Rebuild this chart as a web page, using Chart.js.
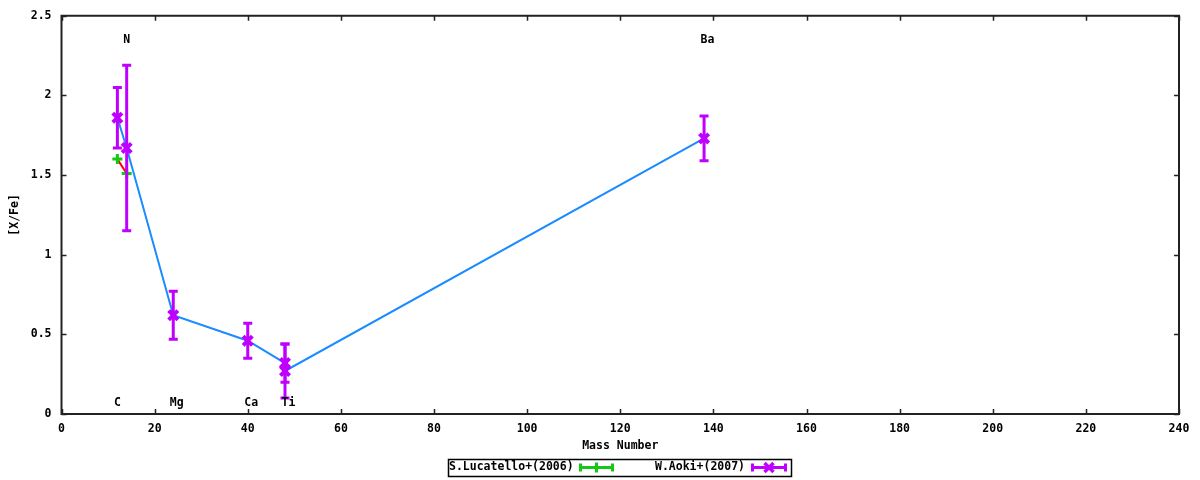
<!DOCTYPE html>
<html>
<head>
<meta charset="utf-8">
<script src="https://cdn.jsdelivr.net/npm/chart.js@4/dist/chart.umd.min.js"></script>
<style>
  html, body { margin: 0; padding: 0; background: #fff; }
  #wrap { width: 1200px; height: 480px; }
</style>
</head>
<body>
<div id="wrap"><canvas id="chart" width="1200" height="480"></canvas></div>
<script>
// Abundance ratios vs mass number

const aokiMass = [12, 14, 24, 40, 48, 48, 138];
const aokiValues = [1.86, 1.67, 0.62, 0.46, 0.32, 0.27, 1.73];
const aokiErrors = [0.19, 0.52, 0.15, 0.11, 0.12, 0.17, 0.14];

const lucatelloMass = [12, 14];
const lucatelloValues = [1.6, 1.51];

const elementNames = ['N', 'Ba', 'C', 'Mg', 'Ca', 'Ti'];
const elementMass = [14, 138, 12, 24, 40, 48];
const elementY = [2.35, 2.35, 0.07, 0.07, 0.07, 0.07];

const xTicks = [0, 20, 40, 60, 80, 100, 120, 140, 160, 180, 200, 220, 240];
const yTicks = [0, 0.5, 1, 1.5, 2, 2.5];

const PURPLE = '#bf00ff';
const GREEN = '#14c814';
const BLUE = '#1a8cff';
const RED = '#ff0000';
const FONT = '"DejaVu Sans Mono", monospace';

Chart.defaults.font.family = FONT;
Chart.defaults.font.size = 11.5;
Chart.defaults.font.weight = 'bold';
Chart.defaults.color = '#000';

function toPoints(xs, ys) {
    return xs.map((x, i) => ({ x: x, y: ys[i] }));
}

// frame, inward ticks on all four sides
const framePlugin = {
    id: 'frame',
    afterDraw(chart) {
        const { ctx, chartArea: a, scales } = chart;
        ctx.save();
        ctx.strokeStyle = '#222';
        ctx.lineWidth = 1.5;
        ctx.beginPath();
        scales.x.ticks.forEach(t => {
            const px = Math.round(scales.x.getPixelForValue(t.value)) + 0.5;
            ctx.moveTo(px, a.bottom); ctx.lineTo(px, a.bottom - 5);
            ctx.moveTo(px, a.top); ctx.lineTo(px, a.top + 5);
        });
        scales.y.ticks.forEach(t => {
            const py = Math.round(scales.y.getPixelForValue(t.value)) + 0.5;
            ctx.moveTo(a.left, py); ctx.lineTo(a.left + 5, py);
            ctx.moveTo(a.right, py); ctx.lineTo(a.right - 5, py);
        });
        ctx.stroke();
        ctx.lineWidth = 2;
        ctx.strokeRect(a.left, a.top, a.right - a.left, a.bottom - a.top);
        ctx.restore();
    }
};

// vertical error bars for the Aoki points
const errorBarPlugin = {
    id: 'errorBars',
    afterDatasetsDraw(chart) {
        const { ctx, scales } = chart;
        ctx.save();
        ctx.strokeStyle = PURPLE;
        ctx.lineWidth = 3;
        aokiMass.forEach((m, i) => {
            const px = scales.x.getPixelForValue(m);
            const top = scales.y.getPixelForValue(aokiValues[i] + aokiErrors[i]);
            const bot = scales.y.getPixelForValue(aokiValues[i] - aokiErrors[i]);
            ctx.beginPath();
            ctx.moveTo(px, top); ctx.lineTo(px, bot);
            ctx.moveTo(px - 4.5, top); ctx.lineTo(px + 4.5, top);
            ctx.moveTo(px - 4.5, bot); ctx.lineTo(px + 4.5, bot);
            ctx.stroke();
        });
        ctx.restore();
    }
};

// element names
const elementLabelPlugin = {
    id: 'elementLabels',
    afterDraw(chart) {
        const { ctx, scales } = chart;
        ctx.save();
        ctx.font = 'bold 11.5px ' + FONT;
        ctx.fillStyle = '#000';
        ctx.textAlign = 'left';
        ctx.textBaseline = 'middle';
        elementNames.forEach((name, i) => {
            ctx.fillText(name, scales.x.getPixelForValue(elementMass[i]) - 3.5,
                scales.y.getPixelForValue(elementY[i]));
        });
        ctx.restore();
    }
};

// gnuplot style key below the plot
const keyPlugin = {
    id: 'key',
    afterDraw(chart) {
        const ctx = chart.ctx;
        const y = 467.5;
        ctx.save();
        ctx.strokeStyle = '#000';
        ctx.lineWidth = 1.5;
        ctx.strokeRect(448.5, 459.5, 343, 17);
        ctx.font = 'bold 11.5px ' + FONT;
        ctx.fillStyle = '#000';
        ctx.textBaseline = 'middle';
        ctx.textAlign = 'left';
        ctx.fillText(chart.data.datasets[1].label, 449, y);
        ctx.fillText(chart.data.datasets[3].label, 655, y);

        function sample(x0, x1, color) {
            ctx.strokeStyle = color;
            ctx.lineWidth = 3;
            ctx.beginPath();
            ctx.moveTo(x0, y); ctx.lineTo(x1, y);
            ctx.moveTo(x0 + 1.5, y - 4); ctx.lineTo(x0 + 1.5, y + 4);
            ctx.moveTo(x1 - 1.5, y - 4); ctx.lineTo(x1 - 1.5, y + 4);
            ctx.stroke();
        }
        sample(579, 614, GREEN);
        ctx.beginPath();
        ctx.moveTo(596.5, y - 5); ctx.lineTo(596.5, y + 5);
        ctx.stroke();
        sample(751, 787, PURPLE);
        ctx.lineWidth = 3.5;
        ctx.beginPath();
        ctx.moveTo(764.5, y - 4.5); ctx.lineTo(773.5, y + 4.5);
        ctx.moveTo(764.5, y + 4.5); ctx.lineTo(773.5, y - 4.5);
        ctx.stroke();
        ctx.restore();
    }
};

const ctx = document.getElementById('chart').getContext('2d');
new Chart(ctx, {
    type: 'scatter',
    data: {
        datasets: [
            {
                label: 'S.Lucatello+(2006) line',
                data: toPoints(lucatelloMass, lucatelloValues),
                showLine: true,
                borderColor: RED,
                borderWidth: 2,
                pointRadius: 0,
                order: 4
            },
            {
                label: 'S.Lucatello+(2006)',
                data: toPoints(lucatelloMass, lucatelloValues),
                pointStyle: 'cross',
                pointRadius: 5,
                borderColor: GREEN,
                backgroundColor: GREEN,
                borderWidth: 3,
                order: 3
            },
            {
                label: 'W.Aoki+(2007) line',
                data: toPoints(aokiMass, aokiValues),
                showLine: true,
                borderColor: BLUE,
                borderWidth: 2,
                pointRadius: 0,
                order: 2
            },
            {
                label: 'W.Aoki+(2007)',
                data: toPoints(aokiMass, aokiValues),
                pointStyle: 'crossRot',
                pointRadius: 6.5,
                borderColor: PURPLE,
                backgroundColor: PURPLE,
                borderWidth: 4,
                order: 1
            }
        ]
    },
    options: {
        responsive: false,
        animation: false,
        devicePixelRatio: 1,
        layout: { padding: { left: 0, right: 21, top: 14, bottom: 0 } },
        plugins: {
            legend: { display: false },
            tooltip: { enabled: false }
        },
        scales: {
            x: {
                type: 'linear',
                min: 0,
                max: 240,
                afterFit: s => { s.height = 66; },
                afterBuildTicks: s => { s.ticks = xTicks.map(v => ({ value: v })); },
                grid: { display: false, drawTicks: false },
                border: { display: false },
                ticks: { padding: 8, maxRotation: 0 },
                title: { display: true, text: 'Mass Number', padding: { top: 0, bottom: 27 } }
            },
            y: {
                type: 'linear',
                min: 0,
                max: 2.5,
                afterFit: s => { s.width = 61.5; },
                afterBuildTicks: s => { s.ticks = yTicks.map(v => ({ value: v })); },
                grid: { display: false, drawTicks: false },
                border: { display: false },
                ticks: { padding: 10, font: { lineHeight: 1 }, callback: v => String(v) },
                title: { display: true, text: '[X/Fe]', padding: 8 }
            }
        }
    },
    plugins: [framePlugin, errorBarPlugin, elementLabelPlugin, keyPlugin]
});
</script>
</body>
</html>
